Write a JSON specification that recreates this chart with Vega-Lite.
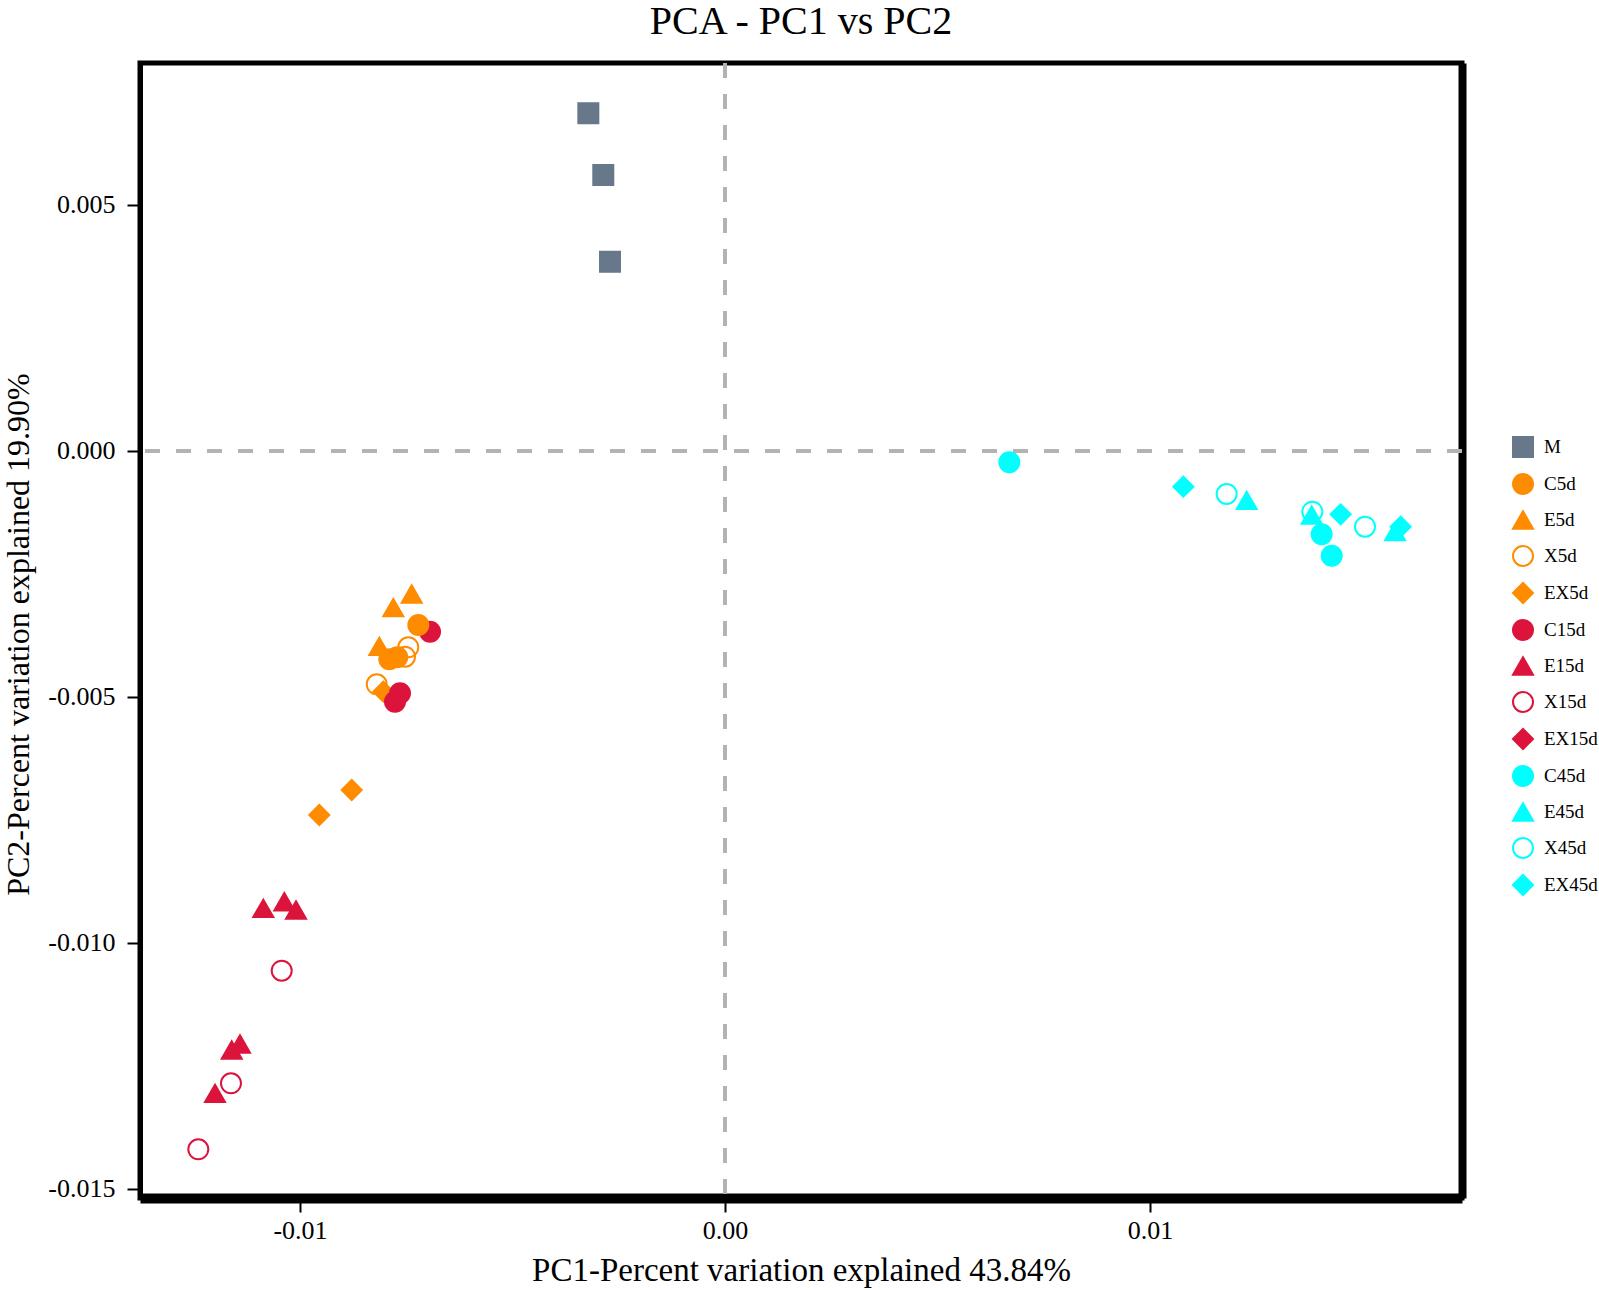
{
  "$schema": "https://vega.github.io/schema/vega-lite/v6.json",
  "autosize": {"type": "none"},
  "width": 1322,
  "height": 1135,
  "padding": {"left": 140, "top": 63, "right": 137, "bottom": 92},
  "background": "white",
  "title": {"text": "PCA - PC1 vs PC2", "font": "Liberation Serif", "fontSize": 40, "fontWeight": "normal", "color": "black", "anchor": "middle", "offset": 20},
  "config": {
    "view": {"stroke": "black", "strokeWidth": 5},
    "axis": {"grid": false, "labelFont": "Liberation Serif", "labelFontSize": 26, "labelColor": "black", "titleFont": "Liberation Serif", "titleFontSize": 33, "titleFontWeight": "normal", "titleColor": "black", "tickColor": "black", "tickWidth": 2, "domainColor": "black"},
    "legend": {"padding": 0, "labelFont": "Liberation Serif", "labelFontSize": 19, "labelColor": "black", "symbolSize": 400, "symbolStrokeWidth": 2, "rowPadding": 9, "labelOffset": 10}
  },
  "data": {"values": [
    {"g": "M", "pc1": -0.003216, "pc2": 0.006864},
    {"g": "M", "pc1": -0.002864, "pc2": 0.005610},
    {"g": "M", "pc1": -0.002706, "pc2": 0.003848},
    {"g": "EX5d", "pc1": -0.008040, "pc2": -0.004892},
    {"g": "EX5d", "pc1": -0.008784, "pc2": -0.006890},
    {"g": "EX5d", "pc1": -0.009546, "pc2": -0.007398},
    {"g": "C15d", "pc1": -0.006941, "pc2": -0.003673},
    {"g": "C15d", "pc1": -0.007647, "pc2": -0.004925},
    {"g": "C15d", "pc1": -0.007765, "pc2": -0.005096},
    {"g": "C5d", "pc1": -0.007216, "pc2": -0.003537},
    {"g": "C5d", "pc1": -0.007899, "pc2": -0.004234},
    {"g": "C5d", "pc1": -0.007711, "pc2": -0.004193},
    {"g": "E5d", "pc1": -0.007372, "pc2": -0.002907},
    {"g": "E5d", "pc1": -0.007805, "pc2": -0.003185},
    {"g": "E5d", "pc1": -0.008134, "pc2": -0.003970},
    {"g": "X5d", "pc1": -0.007452, "pc2": -0.003990},
    {"g": "X5d", "pc1": -0.007529, "pc2": -0.004181},
    {"g": "X5d", "pc1": -0.008195, "pc2": -0.004742},
    {"g": "E15d", "pc1": -0.010864, "pc2": -0.009295},
    {"g": "E15d", "pc1": -0.010369, "pc2": -0.009161},
    {"g": "E15d", "pc1": -0.010094, "pc2": -0.009329},
    {"g": "E15d", "pc1": -0.011412, "pc2": -0.012053},
    {"g": "E15d", "pc1": -0.011607, "pc2": -0.012175},
    {"g": "E15d", "pc1": -0.012000, "pc2": -0.013055},
    {"g": "X15d", "pc1": -0.010431, "pc2": -0.010563},
    {"g": "X15d", "pc1": -0.011624, "pc2": -0.012852},
    {"g": "X15d", "pc1": -0.012393, "pc2": -0.014193},
    {"g": "C45d", "pc1": 0.006690, "pc2": -0.000230},
    {"g": "C45d", "pc1": 0.014039, "pc2": -0.001693},
    {"g": "C45d", "pc1": 0.014275, "pc2": -0.002128},
    {"g": "E45d", "pc1": 0.012275, "pc2": -0.001002},
    {"g": "E45d", "pc1": 0.013804, "pc2": -0.001301},
    {"g": "E45d", "pc1": 0.015765, "pc2": -0.001640},
    {"g": "EX45d", "pc1": 0.010784, "pc2": -0.000725},
    {"g": "EX45d", "pc1": 0.014486, "pc2": -0.001287},
    {"g": "EX45d", "pc1": 0.015898, "pc2": -0.001538},
    {"g": "X45d", "pc1": 0.011804, "pc2": -0.000874},
    {"g": "X45d", "pc1": 0.013819, "pc2": -0.001234},
    {"g": "X45d", "pc1": 0.015059, "pc2": -0.001538}
  ]},
  "layer": [
    {
      "mark": {"type": "rule", "strokeDash": [15, 16], "color": "#b3b3b3", "strokeWidth": 3},
      "encoding": {
        "x": {"datum": 0, "type": "quantitative"}
      }
    },
    {
      "mark": {"type": "rule", "strokeDash": [15, 16], "color": "#b3b3b3", "strokeWidth": 3},
      "encoding": {
        "y": {"datum": 0, "type": "quantitative", "axis": {"orient": "right", "domain": true, "domainWidth": 8, "ticks": false, "labels": false, "title": null}}
      }
    },
    {
      "mark": {"type": "point", "strokeWidth": 2, "opacity": 1},
      "encoding": {
        "x": {"field": "pc1", "type": "quantitative", "title": "PC1-Percent variation explained 43.84%",
          "scale": {"domain": [-0.013765, 0.017341], "nice": false, "zero": false},
          "axis": {"values": [-0.01, 0, 0.01], "labelExpr": "replace(format(datum.value, '.2f'), '\u2212', '-')", "domainWidth": 10, "tickSize": 14, "labelPadding": 5, "titleY": 82, "titleBaseline": "alphabetic"}},
        "y": {"field": "pc2", "type": "quantitative", "title": "PC2-Percent variation explained 19.90%",
          "scale": {"domain": [-0.015183, 0.007886], "nice": false, "zero": false},
          "axis": {"orient": "left", "values": [-0.015, -0.01, -0.005, 0, 0.005], "labelExpr": "replace(format(datum.value, '.3f'), '\u2212', '-')", "domainWidth": 5, "tickSize": 13, "labelPadding": 12, "titleX": -112, "titleY": 571, "titleFontSize": 32, "titleBaseline": "alphabetic"}},
        "fill": {"field": "g", "type": "nominal",
          "legend": {"orient": "none", "legendX": 1372, "legendY": 373, "title": null},
          "scale": {"domain": ["M", "C5d", "E5d", "X5d", "EX5d", "C15d", "E15d", "X15d", "EX15d", "C45d", "E45d", "X45d", "EX45d"],
                    "range": ["#66788a", "#ff8c00", "#ff8c00", "transparent", "#ff8c00", "#dc143c", "#dc143c", "transparent", "#dc143c", "#00ffff", "#00ffff", "transparent", "#00ffff"]}},
        "stroke": {"field": "g", "type": "nominal",
          "legend": {"orient": "none", "legendX": 1372, "legendY": 373, "title": null},
          "scale": {"domain": ["M", "C5d", "E5d", "X5d", "EX5d", "C15d", "E15d", "X15d", "EX15d", "C45d", "E45d", "X45d", "EX45d"],
                    "range": ["#66788a", "#ff8c00", "#ff8c00", "#ff8c00", "#ff8c00", "#dc143c", "#dc143c", "#dc143c", "#dc143c", "#00ffff", "#00ffff", "#00ffff", "#00ffff"]}},
        "shape": {"field": "g", "type": "nominal",
          "legend": {"orient": "none", "legendX": 1372, "legendY": 373, "title": null},
          "scale": {"domain": ["M", "C5d", "E5d", "X5d", "EX5d", "C15d", "E15d", "X15d", "EX15d", "C45d", "E45d", "X45d", "EX45d"],
                    "range": ["square", "circle", "triangle-up", "circle", "diamond", "circle", "triangle-up", "circle", "diamond", "circle", "triangle-up", "circle", "diamond"]}},
        "size": {"field": "g", "type": "nominal", "legend": null,
          "scale": {"domain": ["C15d", "C45d", "C5d", "E15d", "E45d", "E5d", "EX15d", "EX45d", "EX5d", "M", "X15d", "X45d", "X5d"],
                    "range": [400, 400, 400, 484, 484, 484, 256, 256, 256, 289, 361, 361, 361]}}
      }
    }
  ],
  "resolve": {"axis": {"y": "independent"}}
}
